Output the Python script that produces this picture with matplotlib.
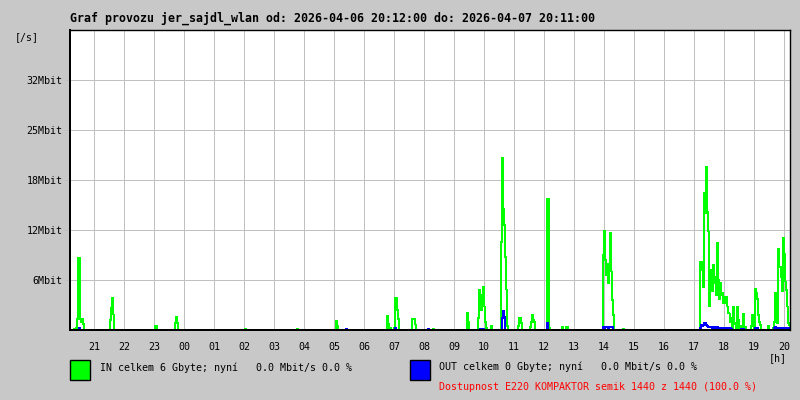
import numpy as np
import matplotlib
matplotlib.use("Agg")
import matplotlib.pyplot as plt

# traffic samples, one value per 2 minutes, start minute counted from 20:12
IN_START = [8, 80, 170, 210, 350, 454, 532, 634, 648, 684, 726, 794, 816, 842,
            862, 896, 920, 954, 984, 992, 1066, 1106, 1260, 1362, 1396, 1406]
IN_MBIT = [
    [0.15, 0.15, 0.3, 1.4, 9.2, 9.2, 1.4, 1.0, 1.4, 0.8],
    [1.3, 2.8, 4.1, 2.0],
    [0.5, 0.5],
    [0.9, 1.7, 0.9],
    [0.15],
    [0.15],
    [1.15, 0.55],
    [1.8, 0.85, 0.3, 0.3],
    [0.3, 4.1, 4.1, 2.6, 1.4],
    [1.4, 1.4, 1.4, 0.7],
    [0.1],
    [2.2, 1.1],
    [1.5, 5.2, 4.5, 2.5, 3.5, 5.5, 3.0, 1.0, 0.3],
    [0.5],
    [11.3, 22.0, 15.5, 13.4, 9.3, 5.2, 0.5],
    [0.5, 1.5, 1.5, 0.9],
    [0.4, 1.0, 1.9, 1.3, 1.0],
    [16.8, 16.8, 0.3],
    [0.35],
    [0.4, 0.4],
    [9.6, 12.7, 9.0, 7.0, 8.5, 6.0, 8.0, 12.4, 7.5, 3.8, 1.9],
    [0.15],
    [8.7, 8.7, 7.7, 5.5, 17.5, 15.0, 20.9, 15.1, 12.6, 3.0, 6.8, 7.7, 5.0,
     8.3, 6.0, 6.8, 4.5, 11.1, 6.4, 4.0, 6.0, 4.5, 4.7, 3.5, 4.3, 3.4, 4.2,
     3.0, 2.2, 2.1, 1.0, 1.5, 0.3, 3.0, 0.8, 0.9, 0.3, 3.0, 1.3, 0.3, 0.5,
     0.4, 0.3, 2.1, 0.4, 0.4],
    [0.5, 2.0, 0.5, 0, 5.3, 4.7, 4.0, 1.9, 1.0, 0.6],
    [0.5],
    [0.3, 1.0, 4.7, 2.0, 0.9, 10.4, 8.0, 8.1, 6.8, 5.0, 11.8, 9.8, 6.2, 5.1,
     3.0, 0.9, 0.6],
]

OUT_START = [18, 552, 650, 716, 820, 864, 954, 1066, 1260, 1342, 1370, 1408]
OUT_MBIT = [
    [0.3],
    [0.15],
    [0.25],
    [0.2],
    [0.15, 0.1, 0.1, 0.2],
    [1.5, 2.4, 1.7],
    [0.9],
    [0.4, 0.3, 0.45, 0.35, 0.4, 0.3, 0.4, 0.45, 0.35, 0.4],
    [0.3, 0.6, 0.5, 0.6, 0.9, 0.9, 0.6, 0.5, 0.4, 0.35, 0.35, 0.4, 0.3, 0.35,
     0.35, 0.3, 0.3, 0.35, 0.3, 0.3, 0.3, 0.25, 0.3, 0.25, 0.3, 0.2, 0.25,
     0.3, 0.2, 0.2, 0.25, 0.2],
    [0.2, 0.2, 0.15],
    [0.3, 0.3, 0.25],
    [0.3, 0.35, 0.3, 0.3, 0.25, 0.3, 0.3, 0.25, 0.3, 0.3, 0.3, 0.25, 0.3,
     0.3, 0.3],
]

HOUR_LABELS = ["21", "22", "23", "00", "01", "02", "03", "04", "05", "06",
               "07", "08", "09", "10", "11", "12", "13", "14", "15", "16",
               "17", "18", "19", "20"]
Y_TICKS = [6.4, 12.8, 19.2, 25.6, 32.0]
Y_LABELS = ["6Mbit", "12Mbit", "18Mbit", "25Mbit", "32Mbit"]

TITLE = "Graf provozu jer_sajdl_wlan od: 2026-04-06 20:12:00 do: 2026-04-07 20:11:00"
IN_TEXT = "IN celkem 6 Gbyte; nyní   0.0 Mbit/s 0.0 %"
OUT_TEXT = "OUT celkem 0 Gbyte; nyní   0.0 Mbit/s 0.0 %"
AVAIL_TEXT = "Dostupnost E220 KOMPAKTOR semik 1440 z 1440 (100.0 %)"

BG = "#c8c8c8"
GRID = "#c0c0c0"
MONO = "DejaVu Sans Mono"
FS = 7.2


def build_series(starts, bursts, slots=720):
    vals = np.zeros(slots + 1)
    for start, burst in zip(starts, bursts):
        i = start // 2
        vals[i:i + len(burst)] = burst
    return vals


in_vals = build_series(IN_START, IN_MBIT)
out_vals = build_series(OUT_START, OUT_MBIT)
minutes = np.arange(len(in_vals)) * 2

W, H = 800, 400
fig = plt.figure(figsize=(8, 4), dpi=100, facecolor=BG)
ax = fig.add_axes([70 / W, 1 - 330 / H, 720 / W, 300 / H])
ax.set_facecolor("white")

px = 72 / 100  # one pixel in points
ax.step(minutes, in_vals, where="post", color="#00ff00", lw=0.5,
        antialiased=False, zorder=2)
ax.step(minutes, out_vals, where="post", color="#0000ff", lw=0.5,
        antialiased=False, zorder=2.1)

ax.set_xlim(0, 1440)
ax.set_ylim(0, 38.4)

# hour ticks, first full hour 21:00 is 48 minutes after start
ax.set_xticks([48 + 60 * i for i in range(len(HOUR_LABELS))])
ax.set_xticklabels(HOUR_LABELS, family=MONO, fontsize=FS)
ax.set_yticks(Y_TICKS)
ax.set_yticklabels(Y_LABELS, family=MONO, fontsize=FS)
ax.tick_params(axis="x", length=0, pad=9)
ax.tick_params(axis="y", length=6 * px, width=px, color=GRID, pad=1)

ax.grid(True, color=GRID, lw=px, antialiased=False)
ax.set_axisbelow(True)
for side in ["left", "bottom"]:
    ax.spines[side].set_linewidth(2 * px)
for side in ["top", "right"]:
    ax.spines[side].set_linewidth(1.4 * px)


def ftext(x, y, s, **kw):
    fig.text(x / W, 1 - y / H, s, family=MONO, va="center", **kw)


ftext(70, 18, TITLE, fontsize=8.4, fontweight="bold")
ftext(15, 37, "[/s]", fontsize=FS)
ftext(787, 358, "[h]", fontsize=FS, ha="right")

fig.patches.append(plt.Rectangle((70 / W, 1 - 380 / H), 20 / W, 20 / H,
                                 transform=fig.transFigure, facecolor="#00ff00",
                                 edgecolor="black", lw=1.4 * px))
fig.patches.append(plt.Rectangle((410 / W, 1 - 380 / H), 20 / W, 20 / H,
                                 transform=fig.transFigure, facecolor="#0000ff",
                                 edgecolor="black", lw=1.4 * px))
ftext(100, 368, IN_TEXT, fontsize=FS)
ftext(439, 367, OUT_TEXT, fontsize=FS)
ftext(439, 387, AVAIL_TEXT, fontsize=FS, color="#ff0000")

fig.savefig("out.png", dpi=100, facecolor=BG)
